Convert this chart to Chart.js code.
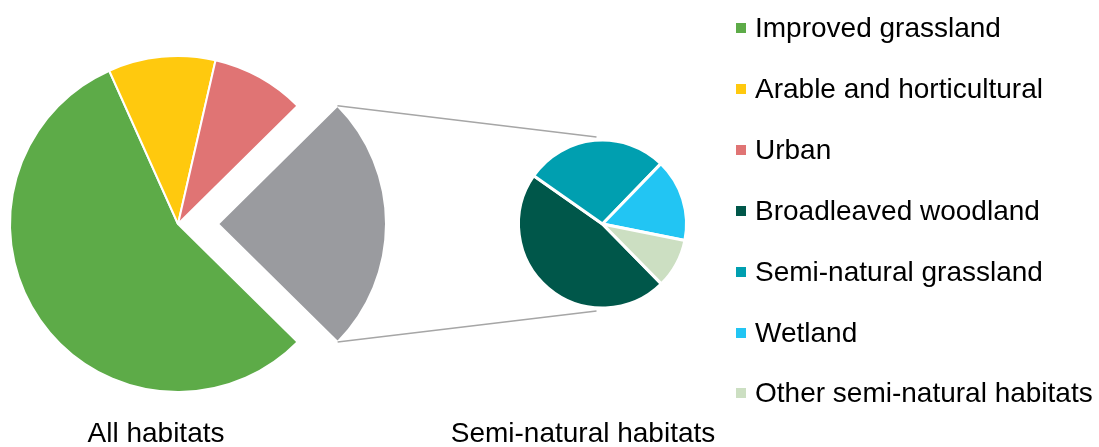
<!DOCTYPE html>
<html>
<head>
<meta charset="utf-8">
<script src="https://cdn.jsdelivr.net/npm/chart.js@4.4.1/dist/chart.umd.min.js"></script>
<style>
  html, body { margin: 0; padding: 0; background: #fff; }
  #wrap { position: relative; width: 1099px; height: 447px; overflow: hidden; font-family: "Liberation Sans", Arial, sans-serif; color: #000; }
  .layer { position: absolute; left: 0; top: 0; width: 1099px; height: 447px; }
  #legend { position: absolute; left: 736px; top: 0; }
  .item { position: absolute; left: 0; white-space: nowrap; font-size: 28px; line-height: 32px; }
  .item i { position: absolute; left: 0; top: 11px; width: 10px; height: 10px; }
  .item span { position: absolute; left: 19px; top: 0; }
  .title { position: absolute; top: 417px; font-size: 28px; line-height: 32px; white-space: nowrap; transform: translateX(-50%); }
</style>
</head>
<body>
<div id="wrap">
  <div class="layer"><canvas id="grafTodos"></canvas></div>
  <div class="layer"><canvas id="grafSemi"></canvas></div>
  <div id="legend"></div>
  <div class="title" style="left:156px">All habitats</div>
  <div class="title" style="left:583px">Semi-natural habitats</div>
</div>
<script>
// Datos del grafico principal (todos los habitats, %)
const habitats = ['Improved grassland', 'Arable and horticultural', 'Urban', 'Semi-natural habitats'];
const habitatValores = [55.9, 10.3, 9.0, 24.8];
const habitatColores = ['#5DAB48', '#FFC90E', '#E07474', '#9A9B9F'];

// Desglose de los habitats semi-naturales (%)
const semiNaturales = ['Broadleaved woodland', 'Semi-natural grassland', 'Wetland', 'Other semi-natural habitats'];
const semiValores = [47.1, 27.5, 15.9, 9.5];
const semiColores = ['#00574A', '#009FB0', '#22C5F3', '#CCDFC2'];

// Orden de la leyenda
const leyendaNombres = ['Improved grassland', 'Arable and horticultural', 'Urban', 'Broadleaved woodland', 'Semi-natural grassland', 'Wetland', 'Other semi-natural habitats'];
const leyendaColores = ['#5DAB48', '#FFC90E', '#E07474', '#00574A', '#009FB0', '#22C5F3', '#CCDFC2'];

// Leyenda en HTML
const legendDiv = document.getElementById('legend');
leyendaNombres.forEach((nombre, i) => {
    const item = document.createElement('div');
    item.className = 'item';
    item.style.top = (12 + i * 60.9) + 'px';
    item.innerHTML = `<i style="background:${leyendaColores[i]}"></i><span>${nombre}</span>`;
    legendDiv.appendChild(item);
});

const opcionesBase = {
    responsive: true,
    maintainAspectRatio: false,
    animation: false,
    events: [],
    plugins: { legend: { display: false }, tooltip: { enabled: false } }
};

// Pie grande, con la porcion gris separada
const graficoTodos = new Chart(document.getElementById('grafTodos'), {
    type: 'pie',
    data: {
        labels: habitats,
        datasets: [{
            data: habitatValores,
            backgroundColor: habitatColores,
            borderColor: '#ffffff',
            borderWidth: 2,
            offset: [0, 0, 0, 160],
            hoverOffset: 0
        }]
    },
    options: {
        ...opcionesBase,
        rotation: 134.6,
        radius: 168,
        layout: { padding: { left: 0, right: 743, top: 1, bottom: 0 } }
    }
});

// Lineas que unen la porcion gris con el segundo pie
const conectores = {
    id: 'conectores',
    beforeDatasetsDraw(chart) {
        const gris = graficoTodos.getDatasetMeta(0).data[3];
        const pie = chart.getDatasetMeta(0).data[0];
        if (!gris || !pie) return;
        const mid = (gris.startAngle + gris.endAngle) / 2;
        const desp = (gris.options.offset || 0) / 4;
        const gx = gris.x + Math.cos(mid) * desp;
        const gy = gris.y + Math.sin(mid) * desp;
        const R = gris.outerRadius;
        const p1 = [gx + R * Math.cos(gris.startAngle), gy + R * Math.sin(gris.startAngle)];
        const p2 = [gx + R * Math.cos(gris.endAngle), gy + R * Math.sin(gris.endAngle)];
        const r = pie.outerRadius;
        const ctx = chart.ctx;
        ctx.save();
        ctx.strokeStyle = '#A6A6A6';
        ctx.lineWidth = 1.5;
        ctx.beginPath();
        ctx.moveTo(p1[0], p1[1]);
        ctx.lineTo(pie.x - 6, pie.y - r - 3);
        ctx.moveTo(p2[0], p2[1]);
        ctx.lineTo(pie.x - 6, pie.y + r + 3);
        ctx.stroke();
        ctx.restore();
    }
};

// Pie pequeno: desglose semi-natural
const graficoSemi = new Chart(document.getElementById('grafSemi'), {
    type: 'pie',
    data: {
        labels: semiNaturales,
        datasets: [{
            data: semiValores,
            backgroundColor: semiColores,
            borderColor: '#ffffff',
            borderWidth: 3,
            hoverOffset: 0
        }]
    },
    options: {
        ...opcionesBase,
        rotation: 135.5,
        radius: 84,
        layout: { padding: { left: 502, right: 396, top: 1, bottom: 0 } }
    },
    plugins: [conectores]
});
</script>
</body>
</html>
